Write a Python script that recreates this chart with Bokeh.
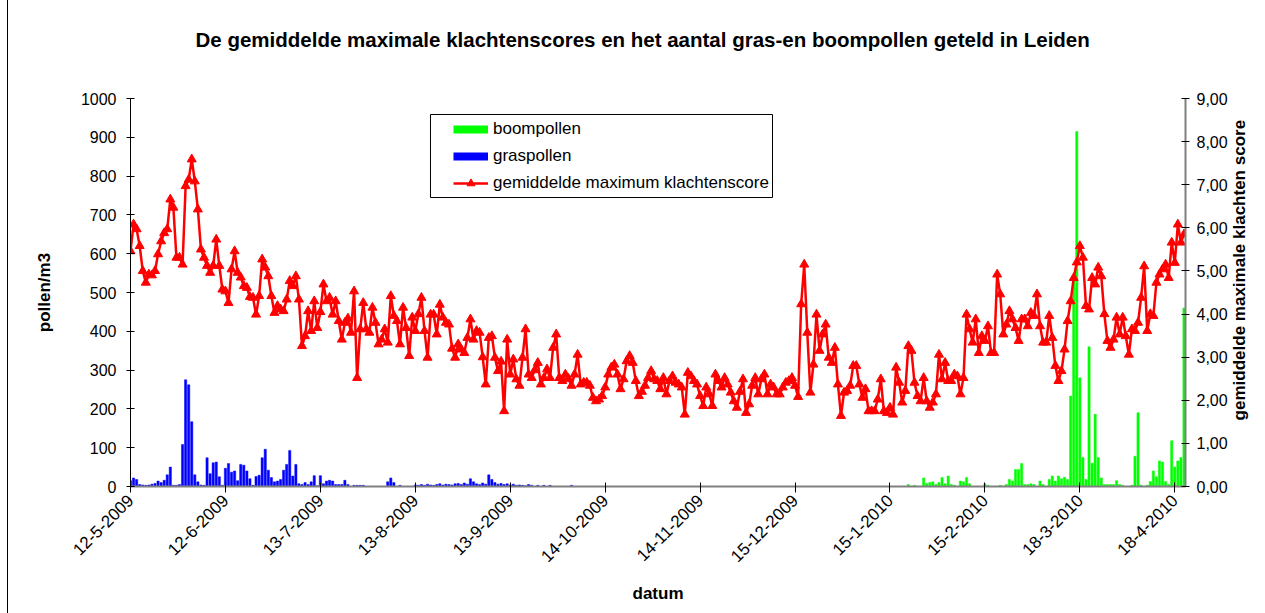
import pandas as pd
from bokeh.plotting import figure
from bokeh.models import (Range1d, LinearAxis, FixedTicker, Legend, LegendItem,
                          Title, BoxAnnotation)
from bokeh.embed import file_html
from bokeh.resources import INLINE

# ---------------- data ----------------
start_date = "2009-05-12"

# gemiddelde maximum klachtenscore (daily, right axis)
score = [
    5.46, 6.08, 5.97, 5.58, 5.00, 4.73, 4.92, 4.90, 5.00, 5.39,
    5.69, 5.88, 5.97, 6.66, 6.47, 5.31, 5.31, 5.15, 6.97, 7.12,
    7.59, 7.08, 6.43, 5.50, 5.31, 5.12, 4.96, 5.12, 5.73, 5.12,
    4.57, 4.53, 4.26, 5.04, 5.46, 4.96, 4.85, 4.65, 4.61, 4.40,
    4.38, 3.99,
    4.42, 5.27, 5.08, 4.88, 4.42, 4.03, 4.19, 4.11, 4.07, 4.34,
    4.77, 4.65, 4.88, 4.34, 3.26, 3.49, 4.07, 3.61, 4.30, 3.68,
    4.05, 4.69, 4.30, 4.38, 3.99, 4.30, 3.84, 3.41, 3.80, 3.90,
    3.57, 4.53, 2.52, 3.65, 4.26, 3.65, 3.57, 4.15, 3.80, 3.30,
    3.41, 3.65, 3.34, 4.42,
    3.96, 3.84, 3.30, 4.15, 3.68, 3.03, 3.92, 3.61, 4.00, 4.38,
    3.61, 2.99, 3.99, 3.99, 3.53, 4.22, 3.92, 3.80, 3.76, 3.20,
    2.99, 3.30, 3.18, 3.10, 3.45, 3.88, 3.41, 3.61, 3.57, 3.00,
    2.37, 3.45, 3.49, 2.99, 2.68, 2.90, 1.75, 3.41, 2.60, 2.95,
    2.49, 2.34, 2.99, 3.65,
    2.60, 2.52, 2.70, 2.87, 2.37, 2.52, 2.72, 2.52, 3.22, 3.53,
    2.52, 2.45, 2.60, 2.50, 2.34, 2.60, 3.06, 2.37, 2.41, 2.41,
    2.34, 2.06, 1.98, 2.02, 2.10, 2.30, 2.60, 2.76, 2.83, 2.60,
    2.26, 2.49, 2.91, 3.03, 2.87, 2.45, 2.10, 2.20, 2.34, 2.52,
    2.68, 2.49, 2.45, 2.26, 2.52,
    2.14, 2.45, 2.56, 2.41, 2.37, 2.30, 1.67, 2.64, 2.56, 2.45,
    2.37, 2.10, 1.87, 2.30, 2.14, 1.87, 2.60, 2.45, 2.30, 2.52,
    2.37, 2.18, 1.98, 1.83, 2.20, 2.49, 1.71, 1.91, 2.34, 2.52,
    2.14, 2.49, 2.60, 2.14, 2.37, 2.30, 2.14, 2.14, 2.30, 2.41,
    2.45, 2.52, 2.34, 2.08,
    4.23, 5.15, 3.57, 2.18, 2.83, 3.99, 3.15, 3.53, 3.76, 2.99,
    2.87, 3.22, 2.37, 1.64, 2.18, 2.22, 2.34, 2.80, 2.80, 2.37,
    2.06, 2.26, 1.75, 1.75, 1.75, 2.02, 2.49, 1.75, 1.71, 1.83,
    1.67, 2.76, 2.41, 1.95, 2.22, 3.26, 3.15, 2.41, 2.10, 1.98,
    2.52, 1.98,
    1.83, 1.95, 2.14, 3.06, 2.49, 2.87, 2.45, 2.45, 2.60, 2.56,
    2.14, 2.52, 3.99, 3.65, 3.34, 3.88, 3.10, 3.49, 3.38, 3.72,
    3.10, 3.10, 4.92, 4.46, 3.53, 3.76, 4.07, 3.88, 3.68, 3.38,
    3.88, 3.88, 3.72, 4.03, 3.96, 4.46, 3.72, 3.34, 3.34, 3.96,
    3.45, 2.80, 2.45, 2.68, 3.18, 3.84,
    4.30, 4.84, 5.20, 5.58, 5.31, 4.19, 4.11, 4.84, 4.69, 5.08,
    4.88, 4.00, 3.38, 3.22, 3.41, 3.92, 3.53, 3.92, 3.49, 3.06,
    3.65, 3.61, 3.80, 4.38, 5.11, 3.61, 4.00, 3.96, 4.73, 4.92,
    5.04, 5.15, 4.84, 5.66, 5.19, 6.08, 5.66, 5.85,
]

# graspollen (pollen/m3), daily from gras_start
gras_start = "2009-05-12"
graspollen = [
    15, 22, 18, 5, 4, 3, 4, 6, 8, 14,
    10, 16, 30, 50, 3, 3, 5, 108, 275, 262,
    167, 30, 12, 4, 3, 74, 33, 61, 63, 25,
    3, 47, 59, 37, 40, 15, 57, 55, 40, 20,
    3, 26, 29, 74, 96, 42, 23, 12, 14, 18,
    42, 57, 93, 27, 57, 7, 5, 10, 5, 12,
    28, 2, 28, 7, 14, 16, 14, 5, 5, 5,
    16, 5, 0, 3, 3, 3, 3, 0, 0, 0,
    0, 0, 0, 0, 12, 22, 10, 0, 3, 0,
    0, 0, 0, 4, 3, 5, 3, 6, 4, 3,
    5, 7, 4, 6, 5, 4, 7, 8, 5, 9,
    6, 20, 12, 7, 5, 9, 6, 30, 18, 10,
    6, 8, 5, 7, 4, 6, 3, 4, 3, 2,
    5, 3, 0, 3, 0, 3, 0, 3, 0, 0,
    0, 0, 0, 0, 3,
]

# boompollen (pollen/m3), daily from boom_start
boom_start = "2010-01-21"
boompollen = [
    5, 0, 3, 0, 0, 22, 8, 10, 12, 5,
    10, 23, 7, 27, 5, 3, 0, 14, 12, 23,
    7, 0, 0, 0, 0, 7, 3, 0, 0, 0,
    3, 0, 5, 18, 14, 44, 44, 59, 5, 5,
    7, 5, 0, 14, 5, 0, 18, 27, 14, 27,
    20, 24, 18, 233, 540, 915, 280, 75, 18, 360,
    60, 186, 75, 22, 5, 5, 5, 5, 15, 5,
    3, 0, 0, 3, 78, 190, 3, 0, 3, 13,
    40, 25, 66, 63, 13, 5, 118, 50, 66, 75,
    460,
]

tick_labels = ["12-5-2009", "12-6-2009", "13-7-2009", "13-8-2009", "13-9-2009",
               "14-10-2009", "14-11-2009", "15-12-2009", "15-1-2010", "15-2-2010",
               "18-3-2010", "18-4-2010"]
pollen_ticks = [0, 100, 200, 300, 400, 500, 600, 700, 800, 900, 1000]
score_ticks = [0, 1, 2, 3, 4, 5, 6, 7, 8, 9]
score_tick_labels = ["0,00", "1,00", "2,00", "3,00", "4,00", "5,00",
                     "6,00", "7,00", "8,00", "9,00"]

title_text = "De gemiddelde maximale klachtenscores en het aantal gras-en boompollen geteld in Leiden"
right_label = "gemiddelde maximale klachten score"

# ---------------- helpers ----------------
DAY = 86400000.0
FONT = "Liberation Sans"


def ms(ts):
    return pd.Timestamp(ts).value / 1e6


score_dates = pd.date_range(start_date, periods=len(score), freq="D")
gras_dates = pd.date_range(gras_start, periods=len(graspollen), freq="D")
boom_dates = pd.date_range(boom_start, periods=len(boompollen), freq="D")

x0 = ms(start_date)
x1 = ms(score_dates[-1]) + 0.5 * DAY

p = figure(width=1265, height=613, output_backend="svg", toolbar_location=None,
           x_axis_type="datetime", x_range=Range1d(x0, x1), y_range=Range1d(0, 1000),
           min_border_left=130, min_border_right=80, min_border_top=98,
           min_border_bottom=127, background_fill_color="white",
           border_fill_alpha=0)
# chart-area border on the left (drawn by the page behind the transparent canvas border)
p.styles = {"background": "linear-gradient(to right, white 7px, black 7px, black 8px, white 8px)"}
p.outline_line_color = None
p.grid.visible = False
p.extra_y_ranges = {"score": Range1d(0, 9)}

# bars
p.vbar(x=boom_dates, top=boompollen, width=0.72 * DAY, fill_color="#00FF00",
       line_color="#00FF00", line_width=0.5)
p.vbar(x=gras_dates, top=graspollen, width=0.72 * DAY, fill_color="#0000FF",
       line_color="#0000FF", line_width=0.5)

# score line
red_line = p.line(x=score_dates, y=score, line_color="#FF0000", line_width=2.5,
                  y_range_name="score")
red_pts = p.scatter(x=score_dates, y=score, marker="triangle", size=9,
                    fill_color="#FF0000", line_color="#FF0000",
                    y_range_name="score")

# legend keys (single-point lines draw nothing in the plot, only in the legend)
g_key = p.line(x=boom_dates[:1], y=boompollen[:1], line_color="#00FF00", line_width=8)
b_key = p.line(x=gras_dates[:1], y=graspollen[:1], line_color="#0000FF", line_width=8)

# legend frame (wider on the left than Bokeh's symmetric padding allows)
p.add_layout(BoxAnnotation(left=x0 + 97.96 * DAY, right=x0 + 209.64 * DAY,
                           bottom=744.8, top=958.8, fill_color="white", fill_alpha=1,
                           line_color="black", line_width=1, line_alpha=1))
legend = Legend(items=[LegendItem(label="boompollen", renderers=[g_key]),
                       LegendItem(label="graspollen", renderers=[b_key]),
                       LegendItem(label="gemiddelde maximum klachtenscore",
                                  renderers=[red_line, red_pts])],
                location=(318, 288), orientation="vertical",
                glyph_width=35, glyph_height=20, label_height=20, spacing=7,
                padding=5, margin=0, label_standoff=5,
                border_line_alpha=0, background_fill_alpha=0,
                label_text_font=FONT, label_text_font_size="17px",
                label_text_color="black")
p.add_layout(legend)

# x axis
xa = p.xaxis[0]
tick_ms = [int(pd.to_datetime(t, format="%d-%m-%Y").value // 10**6) for t in tick_labels]
xa.ticker = FixedTicker(ticks=tick_ms)
xa.major_label_overrides = {t: lab for t, lab in zip(tick_ms, tick_labels)}
xa.major_label_orientation = 0.785398
xa.major_label_text_font = FONT
xa.major_label_text_font_size = "17px"
xa.major_label_text_color = "black"
xa.major_label_standoff = 5
xa.major_tick_in = 4
xa.major_tick_out = 6
xa.major_tick_line_color = "black"
xa.minor_tick_line_color = None
xa.axis_line_color = "#808080"
xa.axis_line_width = 2
xa.axis_label = "datum"
xa.axis_label_text_font = FONT
xa.axis_label_text_font_style = "bold"
xa.axis_label_text_font_size = "17px"
xa.axis_label_text_color = "black"
xa.axis_label_standoff = 14

# left axis
ya = p.yaxis[0]
ya.ticker = FixedTicker(ticks=pollen_ticks)
ya.major_label_text_font = FONT
ya.major_label_text_font_size = "16px"
ya.major_label_text_color = "black"
ya.major_label_standoff = 10
ya.major_tick_in = 4
ya.major_tick_out = 4
ya.major_tick_line_color = "black"
ya.minor_tick_line_color = None
ya.axis_line_color = "black"
ya.axis_label = "pollen/m3"
ya.axis_label_text_font = FONT
ya.axis_label_text_font_style = "bold"
ya.axis_label_text_font_size = "17px"
ya.axis_label_text_color = "black"
ya.axis_label_standoff = 24

# right axis
ra = LinearAxis(y_range_name="score", ticker=FixedTicker(ticks=score_ticks),
                major_label_overrides={t: s for t, s in zip(score_ticks, score_tick_labels)})
ra.major_label_text_font = FONT
ra.major_label_text_font_size = "16px"
ra.major_label_text_color = "black"
ra.major_label_standoff = 7
ra.major_tick_in = 4
ra.major_tick_out = 4
ra.major_tick_line_color = "black"
ra.minor_tick_line_color = None
ra.axis_line_color = "#808080"
ra.axis_line_width = 2
ra.axis_label_text_font = FONT
ra.axis_label_text_font_style = "bold"
ra.axis_label_text_font_size = "17px"
ra.axis_label_text_color = "black"
ra.axis_label_standoff = 9
label_text = right_label
try:
    ra.axis_label_orientation = 1.5708   # read bottom-to-top, like the reference
    try:
        ra.axis_label_align = "start"
        # the rotated label is anchored at its first character: lift it off the x axis
        label_text = "\u00a0" * 14 + right_label
    except Exception:
        pass
except Exception:
    pass
ra.axis_label = label_text
p.add_layout(ra, "right")

# title: a blank spacer next to the frame, then the title itself
p.add_layout(Title(text=" ", text_font_size="1px", standoff=40), "above")
p.add_layout(Title(text=title_text, align="left", offset=65, standoff=10,
                   text_font=FONT, text_font_style="bold", text_font_size="20.5px",
                   text_color="black"), "above")

open("out.html", "w").write(file_html(p, INLINE))
